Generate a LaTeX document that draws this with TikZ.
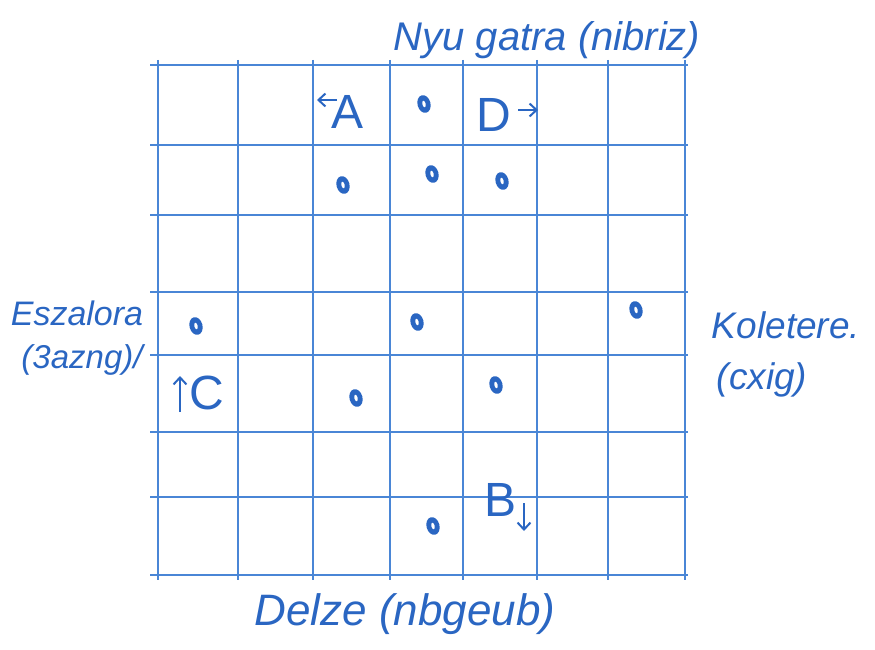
\documentclass[tikz,border=0pt]{standalone}
\usepackage{fontspec}
\setmainfont{Liberation Sans}
\usetikzlibrary{shapes.geometric,arrows.meta}
\definecolor{ink}{HTML}{2A66C2}
\definecolor{gridink}{HTML}{4A86D6}
\tikzset{
  gridline/.style={draw=gridink, line width=1.2pt},
  hand/.style={text=ink, font=\itshape\fontsize{#1}{#1}\selectfont, inner sep=0pt},
  letter/.style={text=ink, font=\fontsize{48}{48}\selectfont, inner sep=0pt},
  pebble/.style={ellipse, fill=ink, minimum width=13pt, minimum height=18pt, inner sep=0pt, rotate=15,
    path picture={\fill[white] (path picture bounding box.center) ellipse (1.6pt and 3.4pt);}},
  dirarrow/.style={draw=ink, line width=2pt, -{Straight Barb[length=7pt,width=13pt]}},
}
\begin{document}
\begin{tikzpicture}[x=1pt,y=-1pt]
\useasboundingbox (0,0) rectangle (875,650);
% grid
\foreach \x in {158,238,313,390,463,537,608,685} {
  \draw[gridline] (\x,60) -- (\x,580);
}
\foreach \y in {65,145,215,292,355,432,497,575} {
  \draw[gridline] (150,\y) -- (688,\y);
}
% labels
\node[hand=40] (top) at (547,40) {Nyu gatra (nibriz)};
\node[hand=34] (left1) at (77,313) {Eszalora};
\node[hand=33] (left2) at (82,360) {(3azng)/};
\node[hand=37] (right1) at (786,325) {Koletere.};
\node[hand=37] (right2) at (762,380) {(cxig)};
\node[hand=44] (bottom) at (405,614) {Delze (nbgeub)};
% letters
\node[letter] (A) at (348,112) {A};
\node[letter] (D) at (494,115) {D};
\node[letter] (C) at (207,393) {C};
\node[letter] (B) at (501,500) {B};
\coordinate (Aa) at (337,100); \coordinate (Ab) at (317,100);
\coordinate (Da) at (518,110); \coordinate (Db) at (538,110);
\coordinate (Ca) at (180,412); \coordinate (Cb) at (180,376);
\coordinate (Ba) at (524,503); \coordinate (Bb) at (524,531);
\draw[dirarrow] (Aa) -- (Ab);
\draw[dirarrow] (Da) -- (Db);
\draw[dirarrow] (Ca) -- (Cb);
\draw[dirarrow] (Ba) -- (Bb);
% pebbles
\node[pebble] (p1) at (424,104) {};
\node[pebble] (p2) at (343,185) {};
\node[pebble] (p3) at (432,174) {};
\node[pebble] (p4) at (502,181) {};
\node[pebble] (p5) at (196,326) {};
\node[pebble] (p6) at (417,322) {};
\node[pebble] (p7) at (636,310) {};
\node[pebble] (p8) at (356,398) {};
\node[pebble] (p9) at (496,385) {};
\node[pebble] (p10) at (433,526) {};
\end{tikzpicture}
\end{document}
